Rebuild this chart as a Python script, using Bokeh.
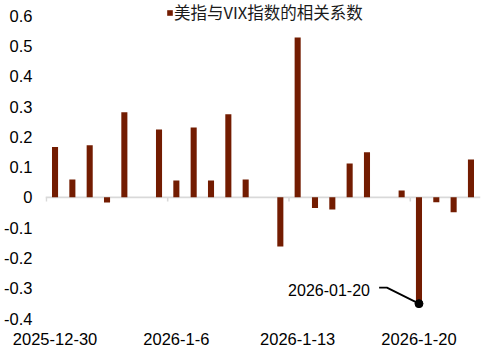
import pandas as pd
from bokeh.plotting import figure
from bokeh.models import Range1d, FixedTicker, Span
from bokeh.core.properties import value
from bokeh.embed import file_html
from bokeh.resources import INLINE

# ---- data ----
dates = ["2025-12-30", "2025-12-31", "2026-01-01", "2026-01-02", "2026-01-03",
         "2026-01-05", "2026-01-06", "2026-01-07", "2026-01-08", "2026-01-09",
         "2026-01-10", "2026-01-12", "2026-01-13", "2026-01-14", "2026-01-15",
         "2026-01-16", "2026-01-17", "2026-01-19", "2026-01-20", "2026-01-21",
         "2026-01-22", "2026-01-23"]
corr = [0.166, 0.059, 0.172, -0.017, 0.281,
        0.224, 0.056, 0.231, 0.056, 0.274,
        0.059, -0.162, 0.528, -0.035, -0.040,
        0.112, 0.149, 0.023, -0.351, -0.016,
        -0.049, 0.125]
series_name = "美指与VIX指数的相关系数"
xtick_dates = ["2025-12-30", "2026-01-06", "2026-01-13", "2026-01-20"]
xtick_labels = ["2025-12-30", "2026-1-6", "2026-1-13", "2026-1-20"]
yticks = [-0.4, -0.3, -0.2, -0.1, 0.0, 0.1, 0.2, 0.3, 0.4, 0.5, 0.6]
ytick_labels = ["-0.4", "-0.3", "-0.2", "-0.1", "0", "0.1", "0.2", "0.3", "0.4", "0.5", "0.6"]
annot_date = "2026-01-20"

# ---- helpers ----
DAY = pd.Timedelta(days=1)
EPOCH = pd.Timestamp("1970-01-01")
dts = pd.to_datetime(dates)
def ms(t):
    return (pd.Timestamp(t) - EPOCH).total_seconds() * 1000.0

BAR = "#731C01"
FONT = "Liberation Sans"

p = figure(width=488, height=351, output_backend="svg", toolbar_location=None,
           x_axis_type="datetime",
           x_range=Range1d(start=ms(dts[0] - 0.55 * DAY), end=ms(dts[-1] + 0.55 * DAY)),
           y_range=Range1d(start=-0.4, end=0.65),
           min_border_left=45, min_border_right=8, min_border_top=0, min_border_bottom=33)
p.outline_line_color = None
p.xgrid.visible = False
p.ygrid.visible = False
p.background_fill_color = "white"
p.border_fill_color = "white"

# zero axis line and tick marks
p.add_layout(Span(location=0, dimension="width", line_color="#D9D9D9",
                  line_width=1.6, level="underlay"))
tick_x = [ms(pd.Timestamp(d) - 0.5 * DAY) for d in xtick_dates]
p.segment(x0=tick_x, y0=[0] * len(tick_x), x1=tick_x, y1=[-0.014] * len(tick_x),
          line_color="#D9D9D9", line_width=1.6)

# bars
p.vbar(x=[ms(d) for d in dts], top=corr, bottom=0, width=0.35 * 86400000,
       fill_color=BAR, line_color=None, legend_label=series_name)

# annotation
i = dates.index(annot_date)
ax = dts[i]
av = corr[i]
p.line(x=[ms(ax - 2.3 * DAY), ms(ax - 1.85 * DAY), ms(ax)],
       y=[av + 0.053, av + 0.053, av], line_color="black", line_width=1.8)
p.scatter(x=[ms(ax)], y=[av], size=8, fill_color="black", line_color="black")
p.text(x=[ms(ax - 2.83 * DAY)], y=[av + 0.045], text=[annot_date],
       text_align="right", text_baseline="middle",
       text_font=value(FONT), text_font_size="16px", text_color="black")

# x axis (labels only)
xa = p.xaxis[0]
xa.ticker = FixedTicker(ticks=[ms(d) for d in xtick_dates])
xa.major_label_overrides = {ms(d): lab for d, lab in zip(xtick_dates, xtick_labels)}
xa.axis_line_color = None
xa.major_tick_line_color = None
xa.minor_tick_line_color = None
xa.major_label_standoff = 8
xa.major_label_text_font = FONT
xa.major_label_text_font_size = "16.5px"
xa.major_label_text_color = "black"

# y axis
ya = p.yaxis[0]
ya.ticker = FixedTicker(ticks=yticks)
ya.major_label_overrides = {t: lab for t, lab in zip(yticks, ytick_labels)}
ya.axis_line_color = None
ya.major_tick_line_color = None
ya.minor_tick_line_color = None
ya.major_tick_out = 0
ya.major_label_standoff = 13
ya.major_label_text_font = FONT
ya.major_label_text_font_size = "16.5px"
ya.major_label_text_color = "black"

# legend
lg = p.legend[0]
lg.location = (121, 294)
lg.orientation = "horizontal"
lg.border_line_color = None
lg.background_fill_alpha = 0
lg.padding = 0
lg.margin = 0
lg.spacing = 0
lg.glyph_width = 7
lg.glyph_height = 7
lg.label_standoff = 1
lg.label_height = 20
lg.label_text_font = "Noto Sans CJK SC"
lg.label_text_font_size = "16.5px"
lg.label_text_color = "#1a1a1a"

open("out.html", "w").write(file_html(p, INLINE))
